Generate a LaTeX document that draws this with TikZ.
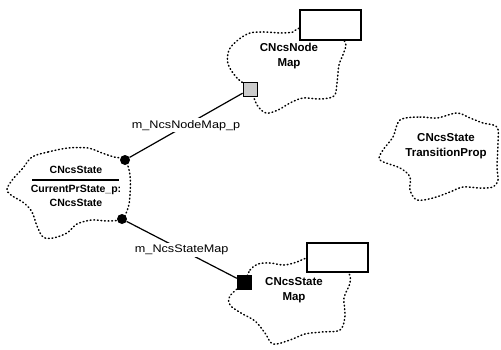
\documentclass[tikz,border=0pt]{standalone}
\usepackage{fontspec}
\setmainfont{Liberation Sans}
\newfontfamily\lblfont[FakeStretch=1.15]{Liberation Sans}
\begin{document}
\begin{tikzpicture}[x=1pt,y=-1pt,
  cloudline/.style={line width=1.5pt, dash pattern=on 0.8pt off 2.8pt, line cap=round},
  cls/.style={font=\bfseries\fontsize{11.5}{15}\selectfont, align=center, inner sep=0pt},
  smallcls/.style={font=\bfseries\fontsize{10.5}{14}\selectfont, align=center, inner sep=0pt},
  lbl/.style={font=\lblfont\fontsize{11}{13}\selectfont, fill=white, inner sep=2pt},
  conn/.style={line width=1.2pt},
  mapbox/.style={draw, fill=white, line width=1.2pt, minimum width=61pt, minimum height=30pt, inner sep=0pt},
  dot/.style={circle, fill=black, minimum size=10pt, inner sep=0pt},
  gsq/.style={draw, fill=gray!40, line width=0.9pt, minimum size=14pt, inner sep=0pt},
  bsq/.style={draw, fill=black, minimum size=14pt, inner sep=0pt}]
\useasboundingbox (0,0) rectangle (501,349);
% clouds
\draw[cloudline] plot[smooth cycle, tension=0.55] coordinates {
  (32,157) (48,152) (68,148) (88,148) (102,153) (114,157) (125,160) (130,175)
  (130,195) (128,208) (122,219) (108,221) (92,220) (77,224) (67,233) (53,238)
  (43,237) (37,226) (32,212) (24,203) (11,195) (7,189) (13,179) (23,168)};
\draw[cloudline] plot[smooth cycle, tension=0.55] coordinates {
  (250,89) (237,78) (228,64) (229,50) (238,40) (250,33) (265,32) (280,33)
  (293,32) (300,28) (330,25) (345,42) (344,52) (339,65) (337,83) (334,96)
  (320,99) (303,98) (290,103) (278,110) (266,113) (257,105)};
\draw[cloudline] plot[smooth cycle, tension=0.55] coordinates {
  (400,120) (420,117) (437,118) (457,113) (470,118) (483,123) (497,127) (498,143)
  (497,167) (498,180) (493,187) (480,188) (463,187) (450,192) (433,198) (417,200)
  (410,190) (410,177) (400,168) (380,160) (383,150) (393,137)};
\draw[cloudline] plot[smooth cycle, tension=0.55] coordinates {
  (244,282) (250,270) (258,264) (270,263) (284,265) (297,262) (307,258) (330,255)
  (348,272) (350,283) (344,298) (345,316) (340,330) (322,332) (305,334) (290,340)
  (273,344) (265,333) (255,321) (241,313) (230,305) (230,296)};
% class names
\node[smallcls] (statename) at (76,170) {CNcsState};
\node[smallcls] (stateattr) at (76,196) {CurrentPrState\_p:\\CNcsState};
\draw[line width=1.2pt] (32,180) -- (119,180);
\node[cls] (nodemap) at (289,56) {CNcsNode\\Map};
\node[cls] (transprop) at (446,146) {CNcsState\\TransitionProp};
\node[cls] (statemap) at (294,290) {CNcsState\\Map};
% boxes
\node[mapbox] (nodemapbox) at (330.5,25) {};
\node[mapbox, minimum height=29pt] (statemapbox) at (337.5,257.5) {};
% ends
\node[dot] (c1) at (125,160) {};
\node[dot] (c2) at (122,219) {};
\node[gsq] (s1) at (250,89) {};
\node[bsq] (s2) at (244,282) {};
% links
\draw[conn] (c1) -- node[lbl] (nodemaplbl) {m\_NcsNodeMap\_p} (s1);
\draw[conn] (c2) -- node[lbl] (statemaplbl) {m\_NcsStateMap} (s2);
\end{tikzpicture}
\end{document}
